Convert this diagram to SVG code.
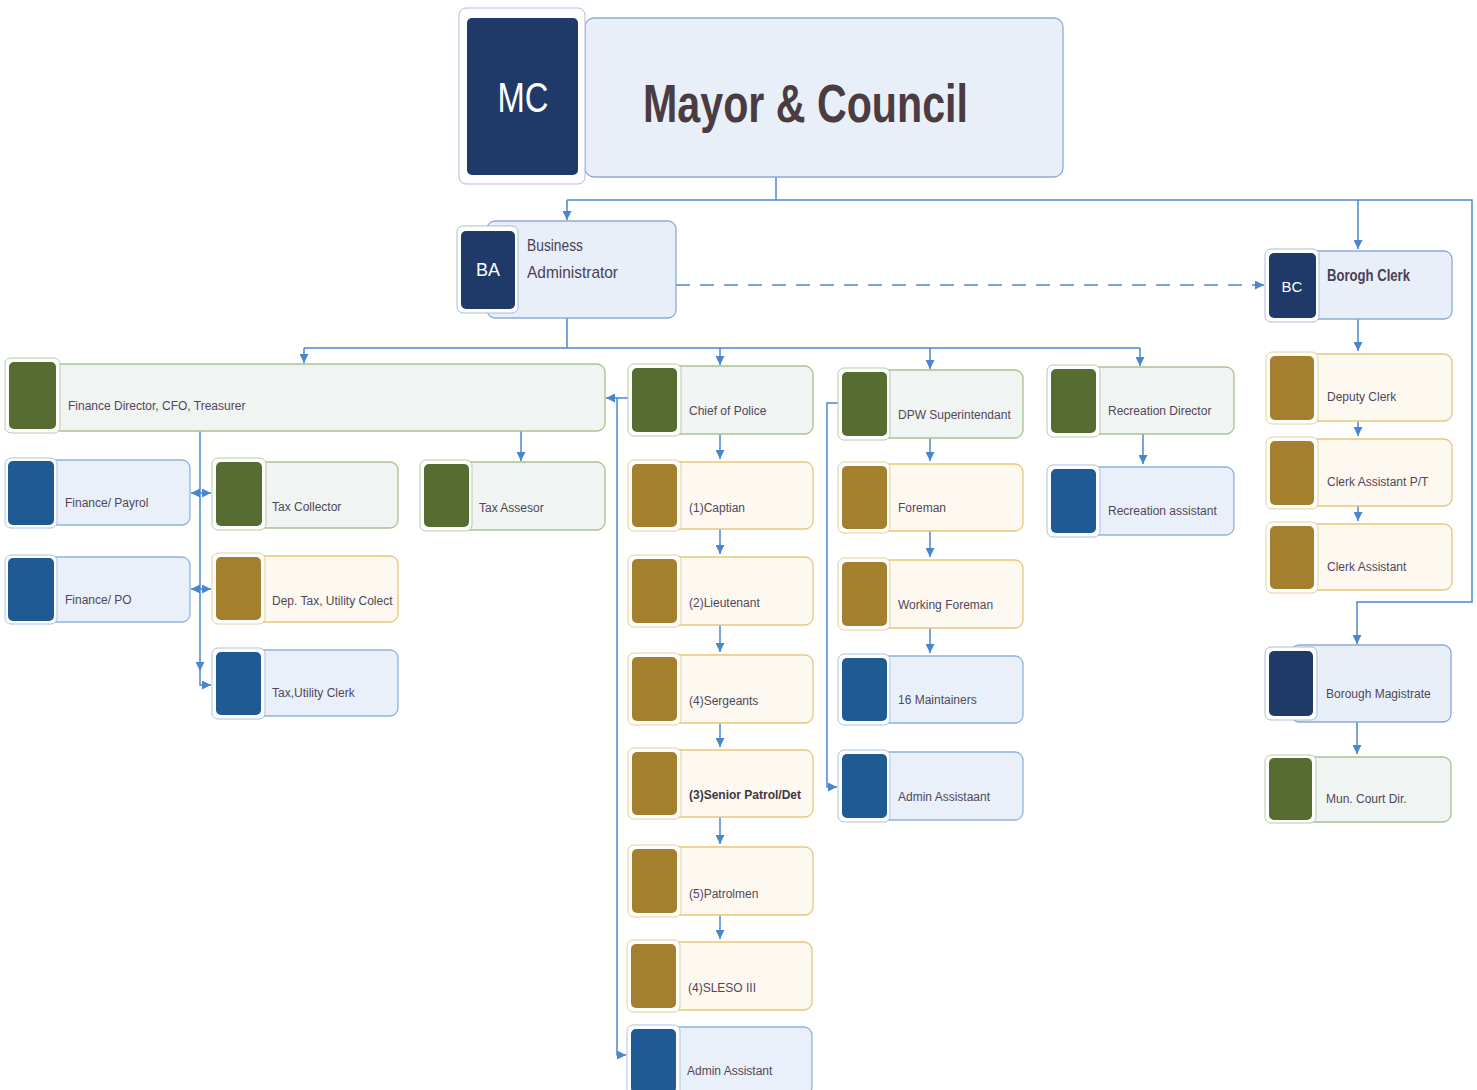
<svg xmlns="http://www.w3.org/2000/svg" width="1477" height="1090" viewBox="0 0 1477 1090">
<defs>
<style>
.bx-b{fill:#eaf0f9;stroke:#8fb2de;stroke-width:1.3}
.bx-g{fill:#f0f4f3;stroke:#a9c191;stroke-width:1.3}
.bx-y{fill:#fdf9f1;stroke:#e9c67a;stroke-width:1.3}
.bx-n{fill:#e9eff9;stroke:#8aaad8;stroke-width:1.3}
.tl-b{fill:#fff;stroke:#a9c3e6;stroke-width:1}
.tl-g{fill:#fff;stroke:#b9cba6;stroke-width:1}
.tl-y{fill:#fff;stroke:#e6cf98;stroke-width:1}
.tl-n{fill:#fff;stroke:#a9bddb;stroke-width:1}
.sq-b{fill:#1f5a94}
.sq-g{fill:#566c31}
.sq-y{fill:#a47f2e}
.sq-n{fill:#1f3a69}
.lbl{font-family:"Liberation Sans",Arial,sans-serif;font-size:12px;fill:#51475a}
.big{font-family:"Liberation Sans",Arial,sans-serif;font-size:17px;fill:#4a4155}
.ini{font-family:"Liberation Sans",Arial,sans-serif;fill:#ffffff}
.cn{fill:none;stroke:#4a86d0;stroke-width:1.5}
.ah{fill:#4a86d0}
</style>
<marker id="arr" viewBox="0 0 10 10" refX="10" refY="5" markerWidth="9" markerHeight="9" markerUnits="userSpaceOnUse" orient="auto-start-reverse">
<path d="M0,0 L10,5 L0,10 z" fill="#4a86d0"/>
</marker>
</defs>
<rect width="1477" height="1090" fill="#ffffff"/>

<g id="connectors">
<path class="cn" d="M776,177 V200"/>
<path class="cn" d="M567,200 H1472 V602 H1357 V644" marker-end="url(#arr)"/>
<path class="cn" d="M567,200 V220" marker-end="url(#arr)"/>
<path class="cn" d="M1358,200 V249" marker-end="url(#arr)"/>
<path class="cn" d="M676,285 H1264" stroke-dasharray="14 10" marker-end="url(#arr)"/>
<path class="cn" d="M567,318 V348"/>
<path class="cn" d="M304,348 H1140"/>
<path class="cn" d="M304,348 V363" marker-end="url(#arr)"/>
<path class="cn" d="M720,348 V365" marker-end="url(#arr)"/>
<path class="cn" d="M930,348 V369" marker-end="url(#arr)"/>
<path class="cn" d="M1140,348 V366" marker-end="url(#arr)"/>
<path class="cn" d="M200,431 V685 H211" stroke-width="1" marker-end="url(#arr)"/>
<path class="ah" d="M195.5,662 L204.5,662 L200,671 z"/>
<path class="cn" d="M191,493 H211" marker-start="url(#arr)" marker-end="url(#arr)"/>
<path class="cn" d="M191,589 H211" marker-start="url(#arr)" marker-end="url(#arr)"/>
<path class="cn" d="M521,431 V461" marker-end="url(#arr)"/>
<path class="cn" d="M628,398 H606" marker-end="url(#arr)"/>
<path class="cn" d="M617,398 V1055 H626" stroke-width="1" marker-end="url(#arr)"/>
<path class="cn" d="M720,434 V459" marker-end="url(#arr)"/>
<path class="cn" d="M720,529 V554" marker-end="url(#arr)"/>
<path class="cn" d="M720,625 V652" marker-end="url(#arr)"/>
<path class="cn" d="M720,723 V747" marker-end="url(#arr)"/>
<path class="cn" d="M720,817 V844" marker-end="url(#arr)"/>
<path class="cn" d="M720,915 V939" marker-end="url(#arr)"/>
<path class="cn" d="M838,403 H827 V787 H837" stroke-width="1" marker-end="url(#arr)"/>
<path class="cn" d="M930,438 V461" marker-end="url(#arr)"/>
<path class="cn" d="M930,531 V557" marker-end="url(#arr)"/>
<path class="cn" d="M930,628 V653" marker-end="url(#arr)"/>
<path class="cn" d="M1143,434 V464" marker-end="url(#arr)"/>
<path class="cn" d="M1358,319 V351" marker-end="url(#arr)"/>
<path class="cn" d="M1358,421 V436" marker-end="url(#arr)"/>
<path class="cn" d="M1358,506 V521" marker-end="url(#arr)"/>
<path class="cn" d="M1357,722 V754" marker-end="url(#arr)"/>
</g>

<g id="mc">
<rect class="bx-n" x="585" y="18" width="478" height="159" rx="9"/>
<rect class="tl-n" x="459" y="8" width="126" height="176" rx="7"/>
<rect class="sq-n" x="467" y="18" width="111" height="157" rx="5"/>
<text class="ini" x="523" y="112" font-size="42" text-anchor="middle" textLength="51" lengthAdjust="spacingAndGlyphs">MC</text>
<text x="643" y="122" font-family="'Liberation Sans',Arial,sans-serif" font-size="54" font-weight="bold" fill="#4a3c40" textLength="325" lengthAdjust="spacingAndGlyphs">Mayor &amp; Council</text>
</g>

<g id="ba">
<rect class="bx-n" x="487" y="221" width="189" height="97" rx="8"/>
<rect class="tl-n" x="457" y="226" width="61" height="87" rx="6"/>
<rect class="sq-n" x="461" y="231" width="54" height="78" rx="5"/>
<text class="ini" x="488" y="276" font-size="18" text-anchor="middle">BA</text>
<text class="big" x="527" y="251" textLength="56" lengthAdjust="spacingAndGlyphs">Business</text>
<text class="big" x="527" y="278" textLength="91" lengthAdjust="spacingAndGlyphs">Administrator</text>
</g>

<g id="bc">
<rect class="bx-n" x="1280" y="251" width="172" height="68" rx="8"/>
<rect class="tl-n" x="1265" y="249" width="54" height="73" rx="6"/>
<rect class="sq-n" x="1269" y="253" width="47" height="65" rx="5"/>
<text class="ini" x="1292" y="292" font-size="15" text-anchor="middle">BC</text>
<text class="big" x="1327" y="281" font-weight="bold" textLength="83" lengthAdjust="spacingAndGlyphs">Borogh Clerk</text>
</g>

<g id="finance-director">
<rect class="bx-g" x="52" y="364" width="553" height="67" rx="8"/>
<rect class="tl-g" x="5" y="358" width="55" height="75" rx="6"/>
<rect class="sq-g" x="9" y="362" width="47" height="67" rx="5"/>
<text class="lbl" x="68" y="410">Finance Director, CFO, Treasurer</text>
</g>

<g id="finance-payrol">
<rect class="bx-b" x="40" y="460" width="150" height="65" rx="8"/>
<rect class="tl-b" x="5" y="458" width="52" height="70" rx="6"/>
<rect class="sq-b" x="8" y="461" width="46" height="64" rx="5"/>
<text class="lbl" x="65" y="507">Finance/ Payrol</text>
</g>

<g id="tax-collector">
<rect class="bx-g" x="240" y="462" width="158" height="66" rx="8"/>
<rect class="tl-g" x="212" y="458" width="54" height="72" rx="6"/>
<rect class="sq-g" x="216" y="462" width="46" height="64" rx="5"/>
<text class="lbl" x="272" y="511">Tax Collector</text>
</g>

<g id="tax-assesor">
<rect class="bx-g" x="450" y="462" width="155" height="68" rx="8"/>
<rect class="tl-g" x="420" y="460" width="52" height="71" rx="6"/>
<rect class="sq-g" x="424" y="464" width="45" height="63" rx="5"/>
<text class="lbl" x="479" y="512">Tax Assesor</text>
</g>

<g id="finance-po">
<rect class="bx-b" x="40" y="557" width="150" height="65" rx="8"/>
<rect class="tl-b" x="5" y="555" width="52" height="69" rx="6"/>
<rect class="sq-b" x="8" y="558" width="46" height="63" rx="5"/>
<text class="lbl" x="65" y="604">Finance/ PO</text>
</g>

<g id="dep-tax">
<rect class="bx-y" x="240" y="556" width="158" height="66" rx="8"/>
<rect class="tl-y" x="212" y="553" width="53" height="71" rx="6"/>
<rect class="sq-y" x="216" y="557" width="45" height="63" rx="5"/>
<text class="lbl" x="272" y="605">Dep. Tax, Utility Colect</text>
</g>

<g id="tax-utility-clerk">
<rect class="bx-b" x="240" y="650" width="158" height="66" rx="8"/>
<rect class="tl-b" x="212" y="648" width="53" height="71" rx="6"/>
<rect class="sq-b" x="216" y="652" width="45" height="63" rx="5"/>
<text class="lbl" x="272" y="697">Tax,Utility Clerk</text>
</g>

<g id="chief-of-police">
<rect class="bx-g" x="660" y="366" width="153" height="68" rx="8"/>
<rect class="tl-g" x="628" y="364" width="53" height="72" rx="6"/>
<rect class="sq-g" x="632" y="368" width="45" height="64" rx="5"/>
<text class="lbl" x="689" y="415">Chief of Police</text>
</g>

<g id="captian">
<rect class="bx-y" x="660" y="462" width="153" height="67" rx="8"/>
<rect class="tl-y" x="628" y="460" width="53" height="71" rx="6"/>
<rect class="sq-y" x="632" y="464" width="45" height="63" rx="5"/>
<text class="lbl" x="689" y="512">(1)Captian</text>
</g>

<g id="lieutenant">
<rect class="bx-y" x="660" y="557" width="153" height="68" rx="8"/>
<rect class="tl-y" x="628" y="555" width="53" height="72" rx="6"/>
<rect class="sq-y" x="632" y="559" width="45" height="64" rx="5"/>
<text class="lbl" x="689" y="607">(2)Lieutenant</text>
</g>

<g id="sergeants">
<rect class="bx-y" x="660" y="655" width="153" height="68" rx="8"/>
<rect class="tl-y" x="628" y="653" width="53" height="72" rx="6"/>
<rect class="sq-y" x="632" y="657" width="45" height="64" rx="5"/>
<text class="lbl" x="689" y="705">(4)Sergeants</text>
</g>

<g id="senior-patrol">
<rect class="bx-y" x="660" y="750" width="153" height="67" rx="8"/>
<rect class="tl-y" x="628" y="748" width="53" height="71" rx="6"/>
<rect class="sq-y" x="632" y="752" width="45" height="63" rx="5"/>
<text class="lbl" x="689" y="799" font-weight="bold" style="fill:#3e3640">(3)Senior Patrol/Det</text>
</g>

<g id="patrolmen">
<rect class="bx-y" x="660" y="847" width="153" height="68" rx="8"/>
<rect class="tl-y" x="628" y="845" width="53" height="72" rx="6"/>
<rect class="sq-y" x="632" y="849" width="45" height="64" rx="5"/>
<text class="lbl" x="689" y="898">(5)Patrolmen</text>
</g>

<g id="sleso">
<rect class="bx-y" x="659" y="942" width="153" height="68" rx="8"/>
<rect class="tl-y" x="627" y="940" width="53" height="72" rx="6"/>
<rect class="sq-y" x="631" y="944" width="45" height="64" rx="5"/>
<text class="lbl" x="688" y="992">(4)SLESO III</text>
</g>

<g id="police-admin">
<rect class="bx-b" x="659" y="1027" width="153" height="68" rx="8"/>
<rect class="tl-b" x="627" y="1025" width="53" height="72" rx="6"/>
<rect class="sq-b" x="631" y="1029" width="45" height="64" rx="5"/>
<text class="lbl" x="687" y="1075">Admin Assistant</text>
</g>

<g id="dpw-superintendant">
<rect class="bx-g" x="860" y="370" width="163" height="68" rx="8"/>
<rect class="tl-g" x="838" y="368" width="52" height="72" rx="6"/>
<rect class="sq-g" x="842" y="372" width="45" height="64" rx="5"/>
<text class="lbl" x="898" y="419">DPW Superintendant</text>
</g>

<g id="foreman">
<rect class="bx-y" x="860" y="464" width="163" height="67" rx="8"/>
<rect class="tl-y" x="838" y="462" width="52" height="71" rx="6"/>
<rect class="sq-y" x="842" y="466" width="45" height="63" rx="5"/>
<text class="lbl" x="898" y="512">Foreman</text>
</g>

<g id="working-foreman">
<rect class="bx-y" x="860" y="560" width="163" height="68" rx="8"/>
<rect class="tl-y" x="838" y="558" width="52" height="72" rx="6"/>
<rect class="sq-y" x="842" y="562" width="45" height="64" rx="5"/>
<text class="lbl" x="898" y="609">Working Foreman</text>
</g>

<g id="maintainers">
<rect class="bx-b" x="860" y="656" width="163" height="67" rx="8"/>
<rect class="tl-b" x="838" y="654" width="52" height="71" rx="6"/>
<rect class="sq-b" x="842" y="658" width="45" height="63" rx="5"/>
<text class="lbl" x="898" y="704">16 Maintainers</text>
</g>

<g id="dpw-admin">
<rect class="bx-b" x="860" y="752" width="163" height="68" rx="8"/>
<rect class="tl-b" x="838" y="750" width="52" height="72" rx="6"/>
<rect class="sq-b" x="842" y="754" width="45" height="64" rx="5"/>
<text class="lbl" x="898" y="801">Admin Assistaant</text>
</g>

<g id="recreation-director">
<rect class="bx-g" x="1070" y="367" width="164" height="67" rx="8"/>
<rect class="tl-g" x="1047" y="365" width="53" height="72" rx="6"/>
<rect class="sq-g" x="1051" y="369" width="45" height="64" rx="5"/>
<text class="lbl" x="1108" y="415">Recreation Director</text>
</g>

<g id="recreation-assistant">
<rect class="bx-b" x="1070" y="467" width="164" height="68" rx="8"/>
<rect class="tl-b" x="1047" y="465" width="53" height="72" rx="6"/>
<rect class="sq-b" x="1051" y="469" width="45" height="64" rx="5"/>
<text class="lbl" x="1108" y="515">Recreation assistant</text>
</g>

<g id="deputy-clerk">
<rect class="bx-y" x="1280" y="354" width="172" height="67" rx="8"/>
<rect class="tl-y" x="1266" y="352" width="52" height="72" rx="6"/>
<rect class="sq-y" x="1270" y="356" width="44" height="64" rx="5"/>
<text class="lbl" x="1327" y="401">Deputy Clerk</text>
</g>

<g id="clerk-assistant-pt">
<rect class="bx-y" x="1280" y="439" width="172" height="67" rx="8"/>
<rect class="tl-y" x="1266" y="437" width="52" height="72" rx="6"/>
<rect class="sq-y" x="1270" y="441" width="44" height="64" rx="5"/>
<text class="lbl" x="1327" y="486">Clerk Assistant P/T</text>
</g>

<g id="clerk-assistant">
<rect class="bx-y" x="1280" y="524" width="172" height="66" rx="8"/>
<rect class="tl-y" x="1266" y="522" width="52" height="71" rx="6"/>
<rect class="sq-y" x="1270" y="526" width="44" height="63" rx="5"/>
<text class="lbl" x="1327" y="571">Clerk Assistant</text>
</g>

<g id="borough-magistrate">
<rect class="bx-n" x="1291" y="645" width="160" height="77" rx="8"/>
<rect class="tl-n" x="1265" y="647" width="52" height="73" rx="6"/>
<rect class="sq-n" x="1269" y="651" width="44" height="65" rx="5"/>
<text class="lbl" x="1326" y="698">Borough Magistrate</text>
</g>

<g id="mun-court-dir">
<rect class="bx-g" x="1290" y="757" width="161" height="65" rx="8"/>
<rect class="tl-g" x="1265" y="755" width="51" height="68" rx="6"/>
<rect class="sq-g" x="1269" y="758" width="43" height="62" rx="5"/>
<text class="lbl" x="1326" y="803">Mun. Court Dir.</text>
</g>
</svg>
